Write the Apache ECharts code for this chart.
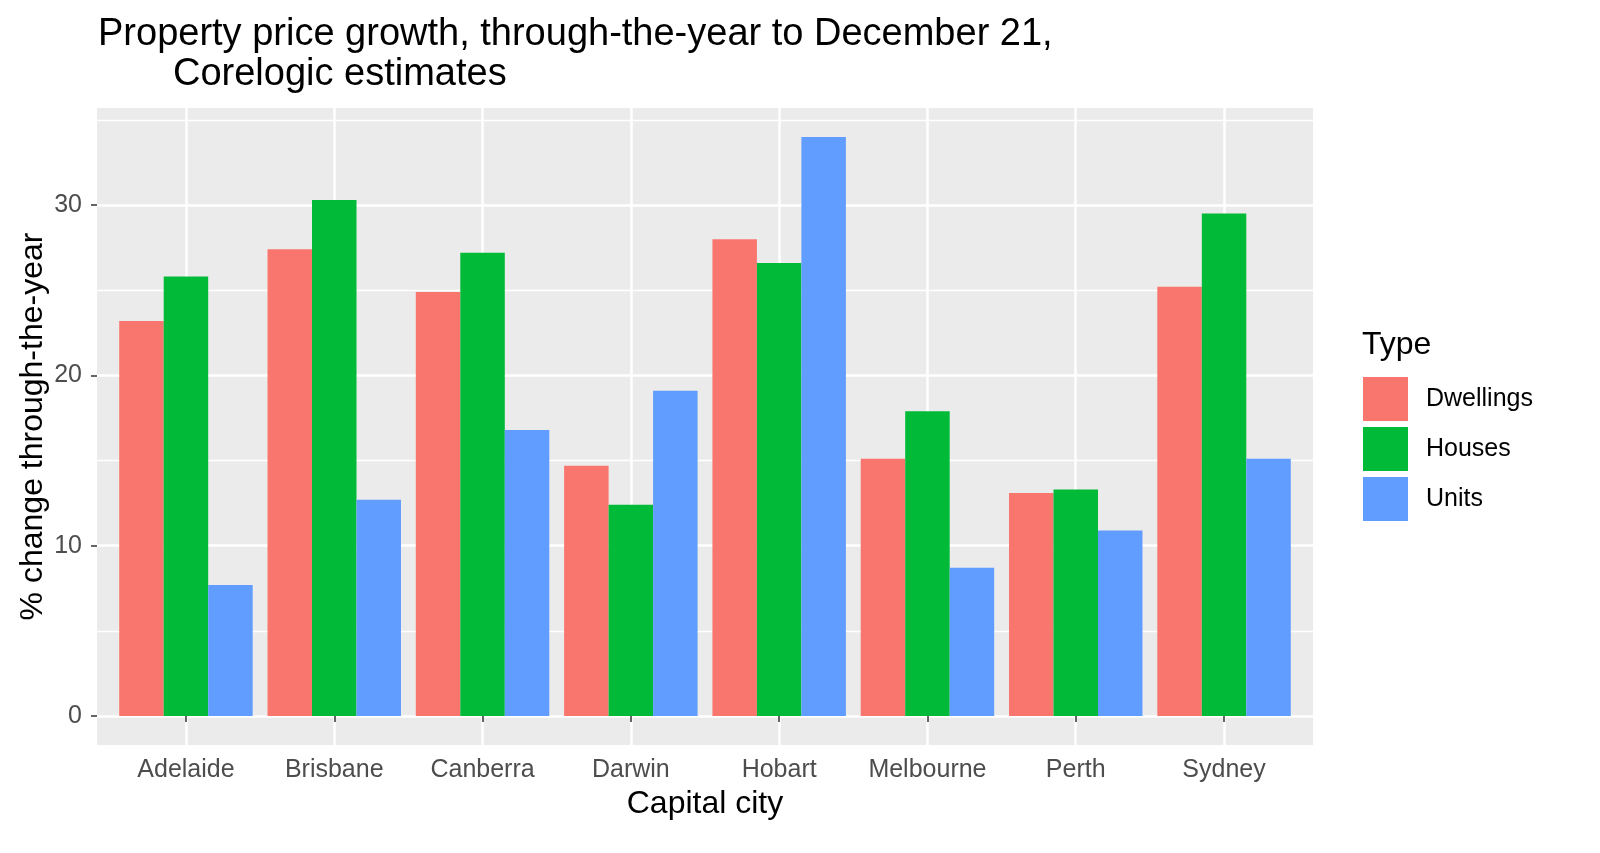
<!DOCTYPE html>
<html>
<head>
<meta charset="utf-8">
<script src="https://cdn.jsdelivr.net/npm/echarts@6/dist/echarts.min.js"></script>
<style>html,body{margin:0;padding:0;background:#fff}#c{width:1600px;height:853px}</style>
</head>
<body>
<div id="c"></div>
<script>
const categories = ['Adelaide','Brisbane','Canberra','Darwin','Hobart','Melbourne','Perth','Sydney'];
const dwellings = [23.2, 27.4, 24.9, 14.7, 28.0, 15.1, 13.1, 25.2];
const houses    = [25.8, 30.3, 27.2, 12.4, 26.6, 17.9, 13.3, 29.5];
const units     = [7.7, 12.7, 16.8, 19.1, 34.0, 8.7, 10.9, 15.1];
const yMajorTicks = [0, 10, 20, 30];
const yMinorTicks = [5, 15, 25, 35];
const seriesNames = ['Dwellings', 'Houses', 'Units'];
const colors = ['#F8766D', '#00BA38', '#619CFF'];

const FONT = '"Liberation Sans", Arial, sans-serif';
const xPositions = categories.map((_, i) => i + 1);
const Y_MIN = -1.7, Y_MAX = 35.7;

const chart = echarts.init(document.getElementById('c'), null, {renderer: 'canvas'});
chart.setOption({
  animation: false,
  backgroundColor: '#FFFFFF',
  textStyle: {fontFamily: FONT},
  title: [
    {text: 'Property price growth, through-the-year to December 21,', left: 93, top: 11,
     textStyle: {fontSize: 38, fontWeight: 'normal', color: '#000', fontFamily: FONT}},
    {text: 'Corelogic estimates', left: 168, top: 51,
     textStyle: {fontSize: 38, fontWeight: 'normal', color: '#000', fontFamily: FONT}},
    {text: 'Type', left: 1357, top: 324,
     textStyle: {fontSize: 32, fontWeight: 'normal', color: '#000', fontFamily: FONT}}
  ],
  legend: {
    data: seriesNames,
    orient: 'vertical',
    left: 1363, top: 377, padding: 0,
    icon: 'rect',
    itemWidth: 45, itemHeight: 44, itemGap: 6,
    textStyle: {fontSize: 25, color: '#000', fontFamily: FONT, padding: [0, 0, 0, 13]}
  },
  grid: [
    {left: 97, right: 287, top: 108, bottom: 108, show: true, backgroundColor: '#EBEBEB', borderWidth: 0},
    {left: 111.8, right: 301.8, top: 108, bottom: 108, show: false}
  ],
  xAxis: [
    {gridIndex: 0, type: 'value', min: 0.4, max: 8.6,
     axisLine: {show: false}, axisLabel: {show: false},
     axisTick: {show: false, customValues: xPositions},
     splitLine: {show: true, lineStyle: {color: '#FFFFFF', width: 2.5}}},
    {gridIndex: 1, type: 'category', data: categories, boundaryGap: true,
     axisLine: {show: false},
     axisTick: {show: true, alignWithLabel: true, interval: 0, length: 6, lineStyle: {color: '#333333', width: 1.5}},
     axisLabel: {interval: 0, hideOverlap: false, fontSize: 25, color: '#4D4D4D', margin: 13, fontFamily: FONT},
     splitLine: {show: false},
     name: 'Capital city', nameLocation: 'middle', nameGap: 43,
     nameTextStyle: {fontSize: 32, color: '#000', fontFamily: FONT}}
  ],
  yAxis: [
    {gridIndex: 0, type: 'value', min: Y_MIN, max: Y_MAX,
     axisLine: {show: false},
     axisTick: {show: true, length: 6, customValues: yMajorTicks, lineStyle: {color: '#333333', width: 1.5}},
     axisLabel: {customValues: yMajorTicks, fontSize: 25, color: '#4D4D4D', margin: 15, fontFamily: FONT},
     splitLine: {show: true, lineStyle: {color: '#FFFFFF', width: 2.5}},
     name: '% change through-the-year', nameLocation: 'middle', nameGap: 48, nameRotate: 90,
     nameMoveOverlap: false,
     nameTextStyle: {fontSize: 32, color: '#000', fontFamily: FONT}},
    {gridIndex: 0, type: 'value', min: Y_MIN, max: Y_MAX, position: 'right',
     axisLine: {show: false}, axisLabel: {show: false},
     axisTick: {show: false, customValues: yMinorTicks},
     splitLine: {show: true, lineStyle: {color: '#FFFFFF', width: 1.3}}},
    {gridIndex: 1, type: 'value', min: Y_MIN, max: Y_MAX,
     axisLine: {show: false}, axisLabel: {show: false}, axisTick: {show: false},
     splitLine: {show: false}}
  ],
  series: [dwellings, houses, units].map((vals, i) => ({
    name: seriesNames[i],
    type: 'bar',
    xAxisIndex: 1, yAxisIndex: 2,
    data: vals,
    barGap: '0%', barCategoryGap: '10%',
    itemStyle: {color: colors[i]}
  })),
  color: colors
});
</script>
</body>
</html>
